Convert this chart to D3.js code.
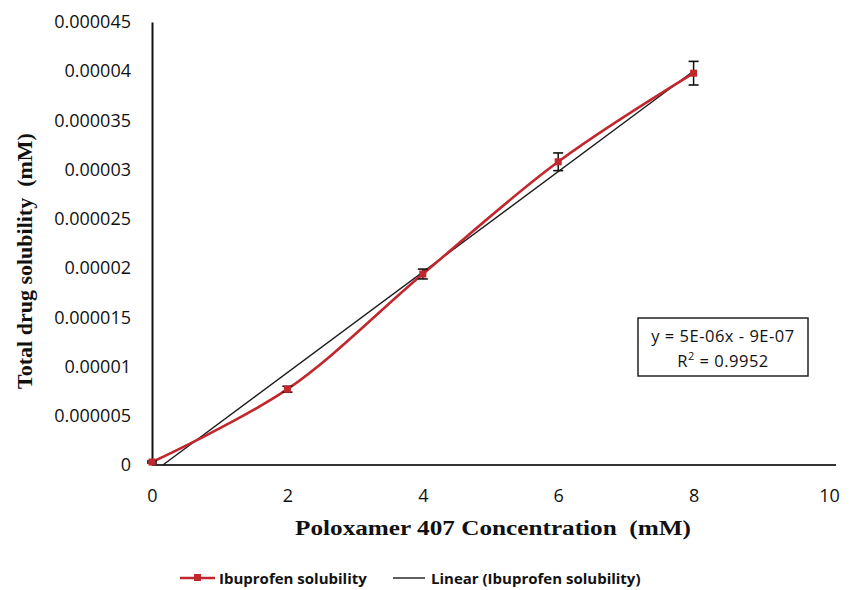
<!DOCTYPE html>
<html>
<head>
    <title>Ibuprofen solubility</title>
    <script src="https://d3js.org/d3.v7.min.js"></script>
    <style>
        body { margin: 0; background: #fff; }
        .tick text { font-family: "Open Sans", sans-serif; font-size: 18px; fill: #111; }
        .axis-title { font-family: "Liberation Serif", "DejaVu Serif", serif; font-weight: bold; fill: #111; white-space: pre; }
        .legend text, .eq text { font-family: "Open Sans", sans-serif; fill: #111; }
    </style>
</head>
<body>
    <script>
        // Data
        var conc = [0, 2, 4, 6, 8];
        var solubility = [0.0000003, 0.0000077, 0.0000194, 0.0000308, 0.0000398];
        var errors = [0.0000001, 0.0000003, 0.0000005, 0.0000009, 0.0000012];
        var xTicks = [0, 2, 4, 6, 8, 10];
        var yTicks = [0, 0.000005, 0.00001, 0.000015, 0.00002, 0.000025, 0.00003, 0.000035, 0.00004, 0.000045];
        var yTickLabels = ["0", "0.000005", "0.00001", "0.000015", "0.00002", "0.000025", "0.00003", "0.000035", "0.00004", "0.000045"];

        var margin = {top: 22, right: 21, bottom: 125, left: 152},
            width = 850 - margin.left - margin.right,
            height = 590 - margin.top - margin.bottom;

        var svg = d3.select("body").append("svg")
            .attr("width", 850)
            .attr("height", 590);

        var g = svg.append("g")
            .attr("transform", "translate(" + margin.left + "," + margin.top + ")");

        var x = d3.scaleLinear().domain([0, 10]).range([0, 677]);
        var y = d3.scaleLinear().domain([0, 0.000045]).range([height, 0]);

        var points = conc.map(function(c, i) {
            return {x: c, y: solubility[i], e: errors[i]};
        });

        // Linear trendline (least squares)
        var mx = d3.mean(conc), my = d3.mean(solubility);
        var sxy = d3.sum(points, function(d) { return (d.x - mx) * (d.y - my); });
        var sxx = d3.sum(points, function(d) { return (d.x - mx) * (d.x - mx); });
        var slope = sxy / sxx, intercept = my - slope * mx;
        var x0 = Math.max(0, -intercept / slope);
        var trend = [[x0, slope * x0 + intercept], [8, slope * 8 + intercept]];

        // Axes
        var xAxis = g.append("g")
            .attr("transform", "translate(0," + height + ")")
            .call(d3.axisBottom(x).tickValues(xTicks).tickSize(0).tickPadding(24));
        xAxis.select(".domain").attr("stroke", "#333").attr("stroke-width", 2)
            .attr("d", "M0,0H684");

        var yAxis = g.append("g")
            .call(d3.axisLeft(y).tickValues(yTicks).tickSize(0).tickPadding(21)
                .tickFormat(function(d, i) { return yTickLabels[i]; }));
        yAxis.select(".domain").attr("stroke", "#111").attr("stroke-width", 2);

        // Trendline
        g.append("line")
            .attr("x1", x(trend[0][0])).attr("y1", y(trend[0][1]))
            .attr("x2", x(trend[1][0])).attr("y2", y(trend[1][1]))
            .attr("stroke", "#1a1a1a")
            .attr("stroke-width", 1.4);

        // Smoothed data line
        var line = d3.line()
            .x(function(d) { return x(d.x); })
            .y(function(d) { return y(d.y); })
            .curve(d3.curveCatmullRom.alpha(0.5));

        g.append("path")
            .datum(points)
            .attr("fill", "none")
            .attr("stroke", "#c1272d")
            .attr("stroke-width", 2.6)
            .attr("d", line);

        // Error bars
        var eb = g.selectAll(".err").data(points).enter().append("g").attr("class", "err");
        eb.append("line")
            .attr("x1", function(d) { return x(d.x); }).attr("x2", function(d) { return x(d.x); })
            .attr("y1", function(d) { return y(d.y - d.e); }).attr("y2", function(d) { return y(d.y + d.e); })
            .attr("stroke", "#111").attr("stroke-width", 1.5);
        [-1, 1].forEach(function(s) {
            eb.append("line")
                .attr("x1", function(d) { return x(d.x) - 5; }).attr("x2", function(d) { return x(d.x) + 5; })
                .attr("y1", function(d) { return y(d.y + s * d.e); }).attr("y2", function(d) { return y(d.y + s * d.e); })
                .attr("stroke", "#111").attr("stroke-width", 1.6);
        });

        // Markers
        g.selectAll(".mk").data(points).enter().append("rect")
            .attr("x", function(d) { return x(d.x) - 3.5; })
            .attr("y", function(d) { return y(d.y) - 3.5; })
            .attr("width", 7).attr("height", 7)
            .attr("fill", "#c1272d");

        // Axis titles
        svg.append("text")
            .attr("class", "axis-title")
            .attr("x", 295).attr("y", 535)
            .attr("textLength", 396)
            .attr("lengthAdjust", "spacingAndGlyphs")
            .style("font-size", "20px")
            .text("Poloxamer 407 Concentration  (mM)");

        svg.append("text")
            .attr("class", "axis-title")
            .attr("transform", "translate(32,261) rotate(-90)")
            .attr("text-anchor", "middle")
            .style("font-size", "22px")
            .text("Total drug solubility  (mM)");

        // Equation box
        var eq = svg.append("g").attr("class", "eq");
        eq.append("rect")
            .attr("x", 638).attr("y", 318).attr("width", 170).attr("height", 58)
            .attr("fill", "#fff").attr("stroke", "#222").attr("stroke-width", 1.5);
        eq.append("text").attr("x", 723).attr("y", 342).attr("text-anchor", "middle")
            .style("font-size", "16.5px").style("letter-spacing", "0.5px").text("y = 5E-06x - 9E-07");
        var r2 = eq.append("text").attr("x", 723).attr("y", 367).attr("text-anchor", "middle")
            .style("font-size", "16.5px").style("letter-spacing", "0.5px");
        r2.append("tspan").text("R");
        r2.append("tspan").attr("dy", -7).style("font-size", "11px").text("2");
        r2.append("tspan").attr("dy", 7).text(" = 0.9952");

        // Legend
        var lg = svg.append("g").attr("class", "legend");
        lg.append("line").attr("x1", 180).attr("x2", 215).attr("y1", 578).attr("y2", 578)
            .attr("stroke", "#c1272d").attr("stroke-width", 2.6);
        lg.append("rect").attr("x", 194).attr("y", 574).attr("width", 7).attr("height", 7).attr("fill", "#c1272d");
        lg.append("text").attr("x", 219).attr("y", 584).style("font-size", "15px").style("font-weight", "bold")
            .text("Ibuprofen solubility");
        lg.append("line").attr("x1", 393).attr("x2", 425).attr("y1", 578).attr("y2", 578)
            .attr("stroke", "#1a1a1a").attr("stroke-width", 1.4);
        lg.append("text").attr("x", 431).attr("y", 584).style("font-size", "15px").style("font-weight", "bold")
            .text("Linear (Ibuprofen solubility)");
    </script>
</body>
</html>
